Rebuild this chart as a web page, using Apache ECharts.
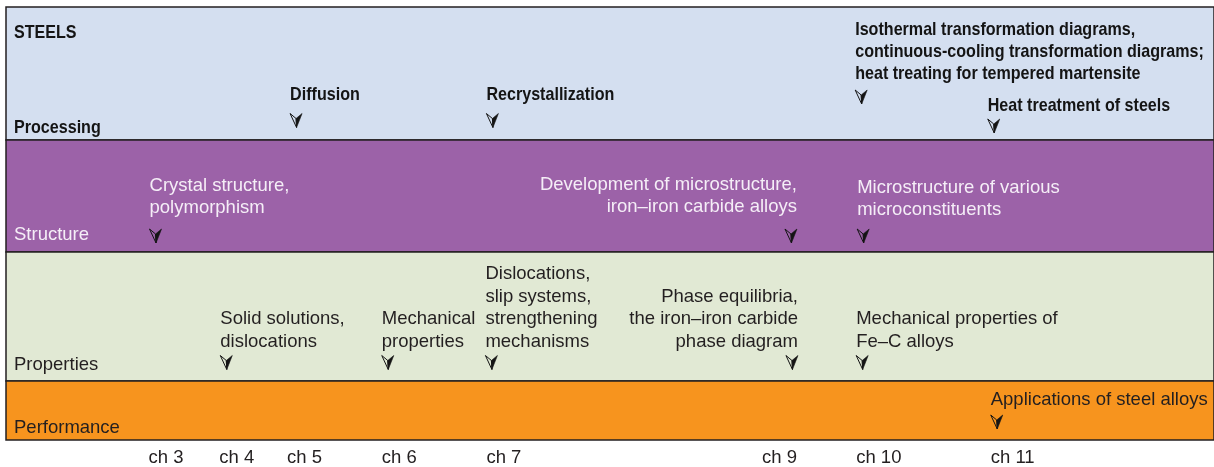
<!DOCTYPE html>
<html><head><meta charset="utf-8">
<script src="https://cdn.jsdelivr.net/npm/echarts@6/dist/echarts.min.js"></script>
<style>html,body{margin:0;padding:0;background:#fff}#c{width:1214px;height:467px}</style>
</head><body><div id="c"></div>
<script>
// ---------------- data ----------------
const chapters   = [3, 4, 5, 6, 7, 9, 10, 11];
const chapterPos = [14.3, 21.4, 28.2, 37.7, 48.2, 75.85, 85.3, 98.8]; // place on the chapter axis
const heading    = 'STEELS';
const bands      = ['Processing', 'Structure', 'Properties', 'Performance'];
const bandEdges  = [0, 133, 245, 374, 433];           // band limits on the vertical scale (top -> bottom)
const annotTexts = [
  'Diffusion',
  'Recrystallization',
  'Isothermal transformation diagrams,\ncontinuous-cooling transformation diagrams;\nheat treating for tempered martensite',
  'Heat treatment of steels',
  'Crystal structure,\npolymorphism',
  'Development of microstructure,\niron\u2013iron carbide alloys',
  'Microstructure of various\nmicroconstituents',
  'Solid solutions,\ndislocations',
  'Mechanical\nproperties',
  'Dislocations,\nslip systems,\nstrengthening\nmechanisms',
  'Phase equilibria,\nthe iron\u2013iron carbide\nphase diagram',
  'Mechanical properties of\nFe\u2013C alloys',
  'Applications of steel alloys'
];
const annotChapter = [5, 7, 10, 11, 3, 9, 10, 4, 6, 7, 9, 10, 11];
const annotBand    = [0, 0, 0, 0, 1, 1, 1, 2, 2, 2, 2, 2, 3];

// ---------------- layout / style ----------------
const annotArrowY = [113.5, 113.5, 90, 119, 229, 229, 229, 355.5, 355.5, 355.5, 355.5, 355.5, 415];
const annotGap    = [26, 26, 23, 20, 28, 29, 26, 21, 21, 21, 21, 21, 22];
const annotDx     = [3, 0, -1, -3, 1, 0, 1, 1, 0, -1, 1, 0, 0];
const annotAlign  = ['left','left','left','left','left','right','left','left','left','left','right','left','left'];
const bandColors     = ['#d4dff0', '#9c62a8', '#e1e9d4', '#f7941e'];
const bandTextColors = ['#141414', '#f5eef7', '#231f20', '#231f20'];
const bandLabelY     = [121, 228, 358, 420.5];
const headingY = 26;
const XMAX = 121.2;
const REG = '"Liberation Sans", Arial, sans-serif';
const FS = 18.5;
const BOLD_SCALE = 0.87;

function measure(text, font) {
  const c = document.createElement('canvas').getContext('2d');
  c.font = font; return c.measureText(text).width;
}
const labelFont = FS + 'px "Liberation Sans", Arial, sans-serif';

function arrowShapes(x, cy, color) {
  const y0 = cy - 7;
  return [
    { type: 'polygon', shape: { points: [[x, y0], [x + 6, y0 + 5], [x + 6.5, y0 + 14]] },
      style: { fill: 'none', stroke: color, lineWidth: 1 } },
    { type: 'polygon', shape: { points: [[x + 12, y0], [x + 6, y0 + 5], [x + 6.5, y0 + 14]] },
      style: { fill: color, stroke: color, lineWidth: 0.6 } }
  ];
}
function textEl(x, y, text, color, bold, opts) {
  return {
    type: 'text', x: x, y: y, scaleX: bold ? BOLD_SCALE : 1,
    style: Object.assign({ text: text, fill: color, fontSize: FS, fontFamily: REG,
      fontWeight: bold ? 'bold' : 'normal', align: 'left', verticalAlign: 'middle' }, opts || {})
  };
}

const chart = echarts.init(document.getElementById('c'), null, { renderer: 'canvas' });
chart.setOption({
  animation: false,
  backgroundColor: '#ffffff',
  grid: { left: 6, top: 7, width: 1212, height: 433 },
  xAxis: {
    type: 'value', min: 0, max: XMAX,
    axisLine: { show: false }, axisTick: { show: false }, splitLine: { show: false },
    axisLabel: {
      customValues: chapterPos,
      formatter: v => 'ch ' + chapters[chapterPos.indexOf(v)],
      align: 'left', margin: 8, fontSize: FS, fontFamily: REG, color: '#231f20',
      showMinLabel: true, showMaxLabel: true, hideOverlap: false
    }
  },
  yAxis: { type: 'value', inverse: true, min: 0, max: bandEdges[bandEdges.length - 1], show: false },
  series: [
    {
      type: 'custom', name: 'bands', silent: true,
      data: bands.map((b, i) => [0, i]),
      renderItem: (params, api) => {
        const i = api.value(1);
        const p0 = api.coord([0, bandEdges[i]]);
        const p1 = api.coord([XMAX, bandEdges[i + 1]]);
        const ly = api.coord([0, bandLabelY[i]])[1];
        const kids = [
          { type: 'rect', shape: { x: p0[0], y: p0[1], width: p1[0] - p0[0], height: p1[1] - p0[1] },
            style: { fill: bandColors[i], stroke: '#231f20', lineWidth: 1.5 } },
          textEl(p0[0] + 8, ly, bands[i], bandTextColors[i], i === 0)
        ];
        if (i === 0) kids.push(textEl(p0[0] + 8, api.coord([0, headingY])[1], heading, bandTextColors[0], true));
        return { type: 'group', children: kids };
      }
    },
    {
      type: 'custom', name: 'topics', silent: true,
      data: annotTexts.map((t, i) => [chapterPos[chapters.indexOf(annotChapter[i])], annotArrowY[i], i]),
      renderItem: (params, api) => {
        const i = api.value(2);
        const p = api.coord([api.value(0), api.value(1)]);
        const band = annotBand[i];
        const bold = band === 0;
        const lh = bold ? 22 : 22.5;
        let x = p[0] + annotDx[i];
        const right = annotAlign[i] === 'right';
        if (right) x += measure('ch ' + annotChapter[i], labelFont);
        const arrowX = right ? x - 12 : x;
        return { type: 'group', children: [
          textEl(x, p[1] - annotGap[i] + lh / 2, annotTexts[i], bandTextColors[band], bold,
                 { lineHeight: lh, align: right ? 'right' : 'left', verticalAlign: 'bottom' })
        ].concat(arrowShapes(arrowX, p[1], '#141414')) };
      }
    }
  ]
});
</script></body></html>
